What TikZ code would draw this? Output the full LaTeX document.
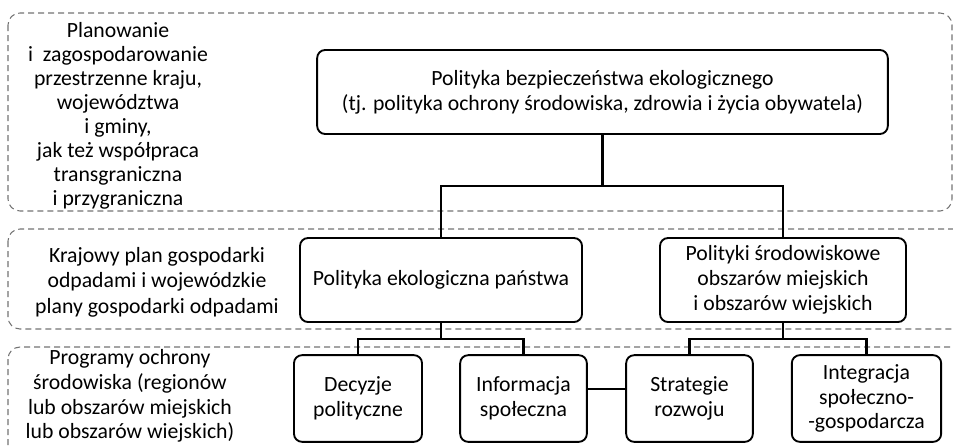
\documentclass[tikz,border=0pt]{standalone}
\usepackage{fontspec}
\setmainfont{Carlito}
\begin{document}
\begin{tikzpicture}[x=0.75pt, y=-0.75pt,
    every node/.style={font=\fontsize{16.3}{18.6}\selectfont},
    box/.style={draw, line width=1.4pt, rounded corners=6pt, align=center, inner sep=0pt},
    band/.style={draw=black!55, line width=0.8pt, dash pattern=on 4.5pt off 3pt, rounded corners=9pt},
    lab/.style={align=center, inner sep=0pt},
    link/.style={line width=1.6pt}]
    \useasboundingbox (0,0) rectangle (953,447);
    \clip (0,0) rectangle (953,447);
    % dashed bands
    \draw[band] (8,13) rectangle (952,211);
    \draw[band] (8,229) rectangle (975,329);
    \draw[band] (8,347) rectangle (975,470);
    % left labels
    \node[lab, font=\fontsize{16.3}{18}\selectfont] (lab1) at (118,116) {Planowanie\\ i\ \ zagospodarowanie\\ przestrzenne kraju,\\ województwa\\ i gminy,\\ jak też współpraca\\ transgraniczna\\ i przygraniczna};
    \node[lab, font=\fontsize{16.3}{19.2}\selectfont] (lab2) at (157,282) {Krajowy plan gospodarki\\ odpadami i wojewódzkie\\ plany gospodarki odpadami};
    \node[lab, font=\fontsize{16.3}{18.6}\selectfont] (lab3) at (130,396) {Programy ochrony\\ środowiska (regionów\\ lub obszarów miejskich\\ lub obszarów wiejskich)};
    % boxes
    \node[box, minimum width=428pt, minimum height=63pt] (top) at (602.5,92) {Polityka bezpieczeństwa ekologicznego\\ (tj. polityka ochrony środowiska, zdrowia i życia obywatela)};
    \node[box, minimum width=211.5pt, minimum height=63pt] (ekol) at (441,280) {Polityka ekologiczna państwa};
    \node[box, minimum width=184.5pt, minimum height=63pt] (srod) at (783,280) {Polityki środowiskowe\\ obszarów miejskich\\ i obszarów wiejskich};
    \node[box, minimum width=96pt, minimum height=65pt] (dec) at (358,398.5) {Decyzje\\ polityczne};
    \node[box, minimum width=95pt, minimum height=65pt] (info) at (523.5,398.5) {Informacja\\ społeczna};
    \node[box, minimum width=95pt, minimum height=65pt] (strat) at (689.5,398.5) {Strategie\\ rozwoju};
    \node[box, minimum width=112pt, minimum height=65pt] (integ) at (866.5,398.5) {Integracja\\ społeczno-\\ -gospodarcza};
    % connectors
    \coordinate (j1) at (602.5,186);
    \coordinate (j2) at (441,339);
    \coordinate (j3) at (783,339);
    \draw[link] (top.south) -- (j1);
    \draw[link] (ekol.north) |- (j1) -| (srod.north);
    \draw[link] (ekol.south) -- (j2);
    \draw[link] (dec.north) |- (j2) -| (info.north);
    \draw[link] (srod.south) -- (j3);
    \draw[link] (strat.north) |- (j3) -| (integ.north);
    \draw[link] ([yshift=7pt]info.east) -- ([yshift=7pt]strat.west);
\end{tikzpicture}
\end{document}
